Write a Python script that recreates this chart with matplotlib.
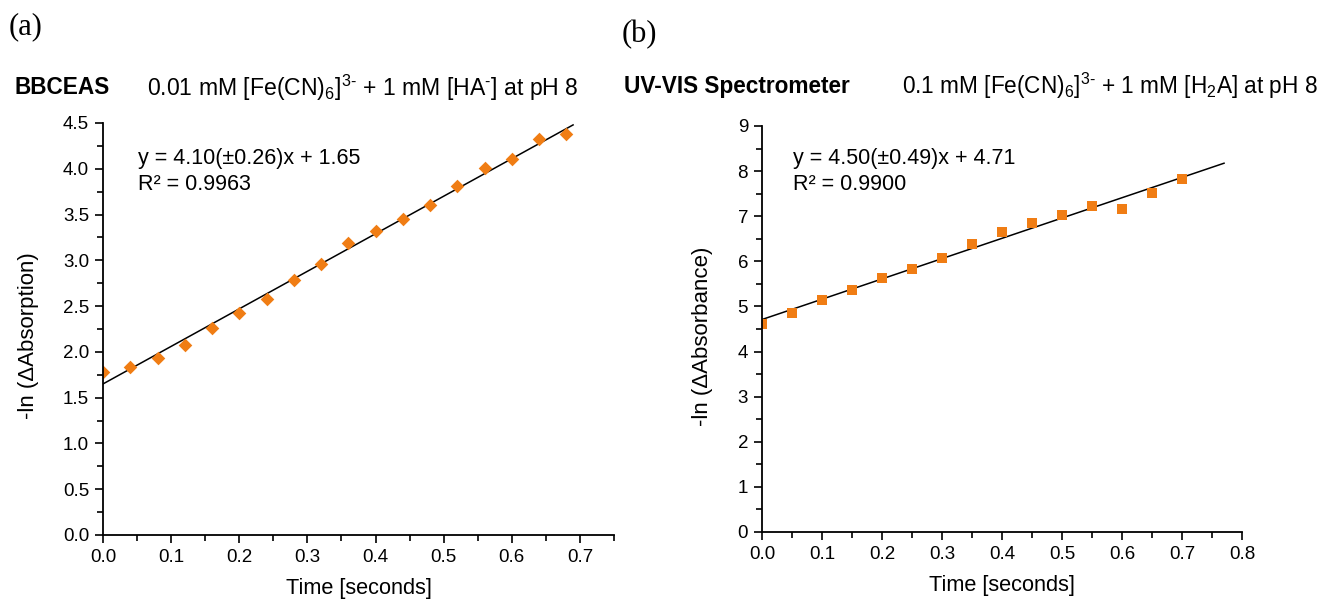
import numpy as np
import matplotlib
matplotlib.use("Agg")
import matplotlib.pyplot as plt
from matplotlib.ticker import MultipleLocator, FormatStrFormatter

plt.rcParams['font.family'] = ['Liberation Sans', 'DejaVu Sans']
plt.rcParams['mathtext.fontset'] = 'custom'
plt.rcParams['mathtext.rm'] = 'Liberation Sans'
plt.rcParams['mathtext.it'] = 'Liberation Sans:italic'
plt.rcParams['mathtext.bf'] = 'Liberation Sans:bold'

# (a) BBCEAS kinetics
time_a = [0.00, 0.04, 0.08, 0.12, 0.16, 0.20, 0.24, 0.28, 0.32,
          0.36, 0.40, 0.44, 0.48, 0.52, 0.56, 0.60, 0.64, 0.68]
lnabs_a = [1.78, 1.84, 1.93, 2.08, 2.26, 2.42, 2.58, 2.78, 2.96,
           3.19, 3.32, 3.45, 3.60, 3.81, 4.01, 4.11, 4.32, 4.38]
slope_a, icpt_a = 4.10, 1.65
fit_end_a = 0.69

# (b) UV-VIS spectrometer kinetics
time_b = [0.00, 0.05, 0.10, 0.15, 0.20, 0.25, 0.30, 0.35,
          0.40, 0.45, 0.50, 0.55, 0.60, 0.65, 0.70]
lnabs_b = [4.60, 4.86, 5.15, 5.36, 5.62, 5.84, 6.08, 6.38,
           6.65, 6.85, 7.03, 7.22, 7.17, 7.52, 7.82]
slope_b, icpt_b = 4.50, 4.71
fit_end_b = 0.77

orange = '#f07d14'

fig = plt.figure(figsize=(13.24, 6.02), dpi=100)
ax1 = fig.add_axes([0.0778, 0.1113, 0.3859, 0.6844])
ax2 = fig.add_axes([0.5755, 0.1163, 0.3626, 0.6744])


def style(ax, xmaj, xmin, ymaj, ymin):
    for s in ('top', 'right'):
        ax.spines[s].set_visible(False)
    for s in ('left', 'bottom'):
        ax.spines[s].set_linewidth(1.3)
        ax.spines[s].set_zorder(4)
    ax.xaxis.set_major_locator(MultipleLocator(xmaj))
    ax.xaxis.set_minor_locator(MultipleLocator(xmin))
    ax.yaxis.set_major_locator(MultipleLocator(ymaj))
    ax.yaxis.set_minor_locator(MultipleLocator(ymin))
    ax.tick_params(which='major', direction='out', length=6, width=1.2,
                   labelsize=13.5, pad=4)
    ax.tick_params(which='minor', direction='out', length=4, width=1.2)


# panel (a)
ax1.scatter(time_a, lnabs_a, marker='D', s=48, color=orange, zorder=3,
            linewidths=0)
xf = np.array([0.0, fit_end_a])
ax1.plot(xf, slope_a * xf + icpt_a, color='black', lw=1.1, zorder=2)
ax1.set_xlim(0, 0.75)
ax1.set_ylim(0, 4.5)
style(ax1, 0.1, 0.05, 0.5, 0.25)
ax1.xaxis.set_major_formatter(FormatStrFormatter('%.1f'))
ax1.yaxis.set_major_formatter(FormatStrFormatter('%.1f'))
ax1.set_xlabel('Time [seconds]', fontsize=15.7)
ax1.xaxis.set_label_coords(0.5, -0.105)
ax1.set_ylabel('-ln (\u0394Absorption)', fontsize=16)
ax1.yaxis.set_label_coords(-0.125, 0.485)
ax1.text(0.068, 0.913, 'y = 4.10(\u00b10.26)x + 1.65',
         transform=ax1.transAxes, fontsize=15.5, va='center')
ax1.text(0.068, 0.850, 'R\u00b2 = 0.9963',
         transform=ax1.transAxes, fontsize=15.5, va='center')

# panel (b)
ax2.scatter(time_b, lnabs_b, marker='s', s=46, color=orange, zorder=3,
            linewidths=0)
xf = np.array([0.0, fit_end_b])
ax2.plot(xf, slope_b * xf + icpt_b, color='black', lw=1.1, zorder=2)
ax2.set_xlim(0, 0.8)
ax2.set_ylim(0, 9)
style(ax2, 0.1, 0.05, 1, 0.5)
ax2.xaxis.set_major_formatter(FormatStrFormatter('%.1f'))
ax2.set_xlabel('Time [seconds]', fontsize=15.7)
ax2.xaxis.set_label_coords(0.5, -0.105)
ax2.set_ylabel('-ln (\u0394Absorbance)', fontsize=16)
ax2.yaxis.set_label_coords(-0.102, 0.483)
ax2.text(0.065, 0.921, 'y = 4.50(\u00b10.49)x + 4.71',
         transform=ax2.transAxes, fontsize=15.5, va='center')
ax2.text(0.065, 0.855, 'R\u00b2 = 0.9900',
         transform=ax2.transAxes, fontsize=15.5, va='center')

# panel letters and headers
fig.text(9 / 1324, 1 - 27 / 602, '(a)', family='Liberation Serif',
         fontsize=22, va='center')
fig.text(622 / 1324, 1 - 35 / 602, '(b)', family='Liberation Serif',
         fontsize=22, va='center')

fig.text(14 / 1324, 1 - 88 / 602, 'BBCEAS', fontsize=16.3,
         fontweight='bold', va='center')
fig.text(147 / 1324, 1 - 88 / 602,
         r'0.01 mM [Fe(CN)$_6$]$^{\text{3-}}$ + 1 mM [HA$^{\text{-}}$] at pH 8',
         fontsize=16.6, va='center')
fig.text(624 / 1324, 1 - 86 / 602, 'UV-VIS Spectrometer', fontsize=16.3,
         fontweight='bold', va='center')
fig.text(902 / 1324, 1 - 86 / 602,
         r'0.1 mM [Fe(CN)$_6$]$^{\text{3-}}$ + 1 mM [H$_2$A] at pH 8',
         fontsize=16.3, va='center')

fig.savefig('out.png', dpi=100)
